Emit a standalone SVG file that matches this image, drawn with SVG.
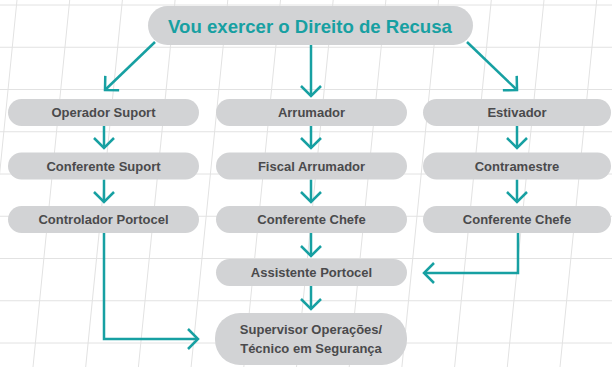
<svg xmlns="http://www.w3.org/2000/svg" width="612" height="367" viewBox="0 0 612 367">
<style>
.grid line{stroke:#e2e2e2;stroke-width:1}
.node rect{fill:#d2d3d5}
.lbl{font-family:"Liberation Sans",Arial,sans-serif;font-weight:bold;font-size:13px;fill:#4a4a4c;text-anchor:middle}
.title{font-family:"Liberation Sans",Arial,sans-serif;font-weight:bold;font-size:18.6px;fill:#17a0a2;text-anchor:middle}
.conn path{fill:none;stroke:#17a0a2;stroke-width:2.5;marker-end:url(#ah)}
</style>
<defs>
<marker id="ah" markerUnits="userSpaceOnUse" viewBox="-14 -13 17 26" refX="0" refY="0" markerWidth="17" markerHeight="26" orient="auto">
<path d="M-10,-10 L0,0 L-10,10" fill="none" stroke="#17a0a2" stroke-width="2.5"/>
</marker>
</defs>
<rect width="612" height="367" fill="#ffffff"/>
<g class="grid">
<line x1="0" y1="5" x2="612" y2="5"/>
<line x1="0" y1="47.25" x2="612" y2="47.25"/>
<line x1="0" y1="89.5" x2="612" y2="89.5"/>
<line x1="0" y1="131.75" x2="612" y2="131.75"/>
<line x1="0" y1="174" x2="612" y2="174"/>
<line x1="0" y1="216.25" x2="612" y2="216.25"/>
<line x1="0" y1="258.5" x2="612" y2="258.5"/>
<line x1="0" y1="300.75" x2="612" y2="300.75"/>
<line x1="0" y1="343" x2="612" y2="343"/>
<line x1="17" y1="0" x2="-19.7" y2="367"/>
<line x1="69.7" y1="0" x2="33" y2="367"/>
<line x1="122.4" y1="0" x2="85.7" y2="367"/>
<line x1="175.1" y1="0" x2="138.4" y2="367"/>
<line x1="227.8" y1="0" x2="191.1" y2="367"/>
<line x1="280.5" y1="0" x2="243.8" y2="367"/>
<line x1="333.2" y1="0" x2="296.5" y2="367"/>
<line x1="385.9" y1="0" x2="349.2" y2="367"/>
<line x1="438.6" y1="0" x2="401.9" y2="367"/>
<line x1="491.3" y1="0" x2="454.6" y2="367"/>
<line x1="544" y1="0" x2="507.3" y2="367"/>
<line x1="596.7" y1="0" x2="560" y2="367"/>
<line x1="649.4" y1="0" x2="612.7" y2="367"/>
</g>
<g class="conn">
<path d="M155,42 L105,90"/>
<path d="M311,45 V96"/>
<path d="M467,42 L517,90"/>
<path d="M104,126 V148"/>
<path d="M104,179.5 V202"/>
<path d="M104,233 V339 H198"/>
<path d="M311,126 V148"/>
<path d="M311,179.5 V202"/>
<path d="M311,233 V256"/>
<path d="M311,286 V309"/>
<path d="M517,126 V148"/>
<path d="M517,179.5 V202"/>
<path d="M518,233 V273 H424"/>
</g>
<g id="n-title" class="node">
<rect x="148" y="6" width="325" height="39" rx="19.5"/>
<text class="title" x="310" y="32.5">Vou exercer o Direito de Recusa</text>
</g>
<g id="n-operador-suport" class="node">
<rect x="8" y="99" width="191" height="27" rx="13.5"/>
<text class="lbl" x="103.5" y="117">Operador Suport</text>
</g>
<g id="n-conferente-suport" class="node">
<rect x="8" y="152.5" width="191" height="27" rx="13.5"/>
<text class="lbl" x="103.5" y="170.5">Conferente Suport</text>
</g>
<g id="n-controlador-portocel" class="node">
<rect x="8" y="206" width="191" height="27" rx="13.5"/>
<text class="lbl" x="103.5" y="224">Controlador Portocel</text>
</g>
<g id="n-arrumador" class="node">
<rect x="216" y="99" width="191" height="27" rx="13.5"/>
<text class="lbl" x="311.5" y="117">Arrumador</text>
</g>
<g id="n-fiscal-arrumador" class="node">
<rect x="216" y="152.5" width="191" height="27" rx="13.5"/>
<text class="lbl" x="311.5" y="170.5">Fiscal Arrumador</text>
</g>
<g id="n-conferente-chefe-1" class="node">
<rect x="216" y="206" width="191" height="27" rx="13.5"/>
<text class="lbl" x="311.5" y="224">Conferente Chefe</text>
</g>
<g id="n-assistente-portocel" class="node">
<rect x="216" y="259" width="191" height="27" rx="13.5"/>
<text class="lbl" x="311.5" y="277">Assistente Portocel</text>
</g>
<g id="n-supervisor" class="node">
<rect x="215" y="313" width="192" height="52" rx="25"/>
<text class="lbl" x="311" y="333.5">Supervisor Operações/</text>
<text class="lbl" x="311" y="352.5">Técnico em Segurança</text>
</g>
<g id="n-estivador" class="node">
<rect x="423" y="99" width="188" height="27" rx="13.5"/>
<text class="lbl" x="517" y="117">Estivador</text>
</g>
<g id="n-contramestre" class="node">
<rect x="423" y="152.5" width="188" height="27" rx="13.5"/>
<text class="lbl" x="517" y="170.5">Contramestre</text>
</g>
<g id="n-conferente-chefe-2" class="node">
<rect x="423" y="206" width="188" height="27" rx="13.5"/>
<text class="lbl" x="517" y="224">Conferente Chefe</text>
</g>
</svg>
